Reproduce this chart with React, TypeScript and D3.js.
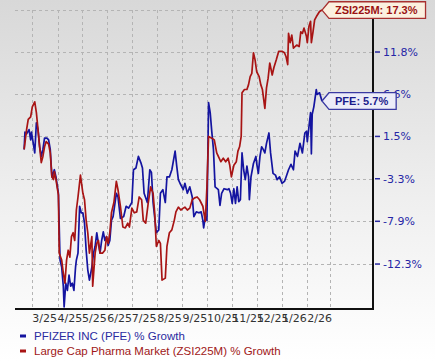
import React from "react";
import * as d3 from "d3";

// % growth series (date, value)
const pfeSeries: [string, number][] = [
  ["2025-02-19", 0.0], ["2025-02-20", 2.0], ["2025-02-22", 1.8], ["2025-02-25", 2.3],
  ["2025-02-27", 1.1], ["2025-02-28", 2.0], ["2025-03-02", 0.8], ["2025-03-04", -0.4],
  ["2025-03-06", 3.1], ["2025-03-08", 2.3], ["2025-03-10", 0.3], ["2025-03-12", -0.8],
  ["2025-03-14", 0.0], ["2025-03-16", 1.3], ["2025-03-19", 1.3], ["2025-03-21", 1.1],
  ["2025-03-23", 0.0], ["2025-03-25", -3.1], ["2025-03-28", -2.3], ["2025-03-30", -3.1],
  ["2025-04-02", -4.9], ["2025-04-04", -11.9], ["2025-04-06", -12.6], ["2025-04-08", -14.5],
  ["2025-04-09", -16.5], ["2025-04-11", -14.2], ["2025-04-13", -14.9], ["2025-04-15", -13.4],
  ["2025-04-17", -14.5], ["2025-04-19", -14.2], ["2025-04-21", -14.9], ["2025-04-23", -12.6],
  ["2025-04-24", -11.9], ["2025-04-26", -11.2], ["2025-04-28", -6.3], ["2025-04-30", -7.0],
  ["2025-05-02", -7.0], ["2025-05-04", -8.1], ["2025-05-06", -10.9], ["2025-05-08", -12.9],
  ["2025-05-10", -13.9], ["2025-05-13", -12.6], ["2025-05-15", -11.2], ["2025-05-17", -10.5],
  ["2025-05-19", -9.1], ["2025-05-21", -10.2], ["2025-05-23", -11.2], ["2025-05-25", -9.9],
  ["2025-05-27", -9.0], ["2025-05-29", -9.9], ["2025-05-31", -9.5], ["2025-06-02", -10.4],
  ["2025-06-04", -9.9], ["2025-06-06", -7.8], ["2025-06-08", -7.4], ["2025-06-12", -4.9],
  ["2025-06-14", -5.3], ["2025-06-17", -7.6], ["2025-06-21", -7.4], ["2025-06-24", -6.3],
  ["2025-06-27", -6.5], ["2025-07-01", -5.9], ["2025-07-03", -2.3], ["2025-07-06", -2.1],
  ["2025-07-09", -0.8], ["2025-07-12", -1.5], ["2025-07-14", -2.1], ["2025-07-16", -4.9],
  ["2025-07-20", -5.9], ["2025-07-23", -2.3], ["2025-07-25", -2.6], ["2025-07-27", -5.9],
  ["2025-07-31", -9.1], ["2025-08-03", -8.8], ["2025-08-05", -4.9], ["2025-08-08", -4.5],
  ["2025-08-11", -5.9], ["2025-08-13", -3.1], ["2025-08-16", -3.1], ["2025-08-19", -2.3],
  ["2025-08-23", -0.2], ["2025-08-25", -1.9], ["2025-08-27", -3.4], ["2025-08-29", -3.8],
  ["2025-09-02", -4.5], ["2025-09-04", -3.8], ["2025-09-07", -4.9], ["2025-09-10", -4.2],
  ["2025-09-13", -5.3], ["2025-09-15", -7.4], ["2025-09-18", -6.9], ["2025-09-21", -7.0],
  ["2025-09-24", -6.9], ["2025-09-26", -7.8], ["2025-09-27", -8.6], ["2025-09-29", -7.4],
  ["2025-10-01", -7.8], ["2025-10-03", 5.5], ["2025-10-05", 4.3], ["2025-10-07", 2.0],
  ["2025-10-09", 0.0], ["2025-10-11", -4.2], ["2025-10-15", -4.5], ["2025-10-17", -6.2],
  ["2025-10-19", -4.9], ["2025-10-22", -4.4], ["2025-10-26", -4.5], ["2025-10-28", -4.4],
  ["2025-10-30", -4.9], ["2025-11-01", -6.0], ["2025-11-03", -4.4], ["2025-11-05", -6.0],
  ["2025-11-07", -4.2], ["2025-11-09", -5.8], ["2025-11-11", -5.6], ["2025-11-13", -0.4],
  ["2025-11-15", -2.3], ["2025-11-17", -3.4], ["2025-11-19", -1.9], ["2025-11-21", -3.1],
  ["2025-11-22", -5.6], ["2025-11-24", -3.1], ["2025-11-27", -1.6], ["2025-11-30", -0.8],
  ["2025-12-01", -1.6], ["2025-12-03", -2.7], ["2025-12-05", -0.8], ["2025-12-07", 0.3],
  ["2025-12-09", 0.0], ["2025-12-11", -0.4], ["2025-12-13", 0.7], ["2025-12-16", 1.9],
  ["2025-12-18", -0.4], ["2025-12-21", -2.7], ["2025-12-24", -2.9], ["2025-12-26", -3.4],
  ["2025-12-29", -3.1], ["2026-01-01", -3.8], ["2026-01-04", -3.6], ["2026-01-06", -3.1],
  ["2026-01-09", -2.3], ["2026-01-12", -1.7], ["2026-01-15", -2.3], ["2026-01-17", -0.2],
  ["2026-01-20", -0.8], ["2026-01-23", 0.7], ["2026-01-26", -0.4], ["2026-01-29", 1.9],
  ["2026-01-31", 2.1], ["2026-02-01", 0.9], ["2026-02-03", 2.6], ["2026-02-05", 4.3],
  ["2026-02-06", -0.5], ["2026-02-07", 4.1], ["2026-02-09", 5.0], ["2026-02-12", 7.1],
  ["2026-02-13", 6.5], ["2026-02-16", 6.7], ["2026-02-19", 5.7],
];

const zsiSeries: [string, number][] = [
  ["2025-02-19", 0.0], ["2025-02-22", 2.3], ["2025-02-24", 3.5], ["2025-02-27", 3.8],
  ["2025-03-01", 5.0], ["2025-03-04", 5.6], ["2025-03-06", 4.3], ["2025-03-08", 2.3],
  ["2025-03-10", 0.3], ["2025-03-12", -1.5], ["2025-03-14", -0.8], ["2025-03-16", 0.3],
  ["2025-03-18", 0.9], ["2025-03-21", 0.6], ["2025-03-23", -0.4], ["2025-03-25", -3.1],
  ["2025-03-27", -3.4], ["2025-03-28", -2.5], ["2025-03-30", -3.4], ["2025-04-02", -5.1],
  ["2025-04-03", -11.2], ["2025-04-06", -11.9], ["2025-04-08", -13.2], ["2025-04-10", -14.2],
  ["2025-04-12", -11.9], ["2025-04-14", -10.9], ["2025-04-16", -11.6], ["2025-04-18", -9.5],
  ["2025-04-20", -9.1], ["2025-04-22", -9.9], ["2025-04-24", -6.7], ["2025-04-26", -5.3],
  ["2025-04-29", -2.9], ["2025-05-02", -4.9], ["2025-05-04", -5.6], ["2025-05-06", -7.8],
  ["2025-05-08", -9.1], ["2025-05-10", -11.2], ["2025-05-13", -9.5], ["2025-05-14", -14.5],
  ["2025-05-17", -11.2], ["2025-05-19", -10.2], ["2025-05-21", -9.9], ["2025-05-23", -11.2],
  ["2025-05-26", -11.2], ["2025-05-29", -10.9], ["2025-05-31", -9.5], ["2025-06-02", -10.2],
  ["2025-06-04", -9.1], ["2025-06-06", -7.0], ["2025-06-09", -5.9], ["2025-06-12", -3.6],
  ["2025-06-14", -4.5], ["2025-06-17", -6.3], ["2025-06-20", -8.5], ["2025-06-23", -8.6],
  ["2025-06-26", -8.1], ["2025-06-28", -8.5], ["2025-07-01", -6.5], ["2025-07-04", -7.0],
  ["2025-07-07", -6.9], ["2025-07-10", -5.3], ["2025-07-13", -5.6], ["2025-07-15", -7.8],
  ["2025-07-18", -8.1], ["2025-07-21", -6.0], ["2025-07-24", -4.2], ["2025-07-27", -4.9],
  ["2025-07-29", -7.0], ["2025-07-31", -10.5], ["2025-08-03", -9.9], ["2025-08-05", -10.2],
  ["2025-08-07", -13.9], ["2025-08-11", -13.7], ["2025-08-13", -10.5], ["2025-08-16", -9.1],
  ["2025-08-19", -8.8], ["2025-08-22", -7.8], ["2025-08-24", -6.9], ["2025-08-27", -6.4],
  ["2025-08-30", -6.7], ["2025-09-02", -6.5], ["2025-09-04", -6.4], ["2025-09-07", -6.7],
  ["2025-09-10", -6.5], ["2025-09-13", -5.6], ["2025-09-16", -5.4], ["2025-09-19", -5.3],
  ["2025-09-22", -5.6], ["2025-09-26", -6.3], ["2025-09-29", -7.9], ["2025-10-01", -4.2],
  ["2025-10-03", 1.5], ["2025-10-07", 1.3], ["2025-10-10", 1.1], ["2025-10-13", -0.4],
  ["2025-10-15", -0.8], ["2025-10-18", -1.4], ["2025-10-21", -1.0], ["2025-10-24", -1.4],
  ["2025-10-27", -1.0], ["2025-10-29", -1.8], ["2025-10-31", -3.1], ["2025-11-03", -1.8],
  ["2025-11-06", -1.4], ["2025-11-08", -0.2], ["2025-11-10", 0.3], ["2025-11-12", 1.5],
  ["2025-11-13", 6.7], ["2025-11-16", 7.1], ["2025-11-19", 7.1], ["2025-11-21", 7.7],
  ["2025-11-23", 8.7], ["2025-11-25", 9.1], ["2025-11-27", 11.7], ["2025-11-29", 10.8],
  ["2025-12-01", 9.3], ["2025-12-04", 8.7], ["2025-12-06", 7.7], ["2025-12-08", 7.1],
  ["2025-12-11", 4.8], ["2025-12-13", 7.3], ["2025-12-15", 8.5], ["2025-12-17", 10.4],
  ["2025-12-20", 8.9], ["2025-12-22", 9.8], ["2025-12-25", 10.8], ["2025-12-28", 11.9],
  ["2026-01-01", 11.9], ["2026-01-04", 11.7], ["2026-01-06", 11.2], ["2026-01-08", 10.2],
  ["2026-01-09", 14.2], ["2026-01-11", 13.0], ["2026-01-13", 14.0], ["2026-01-15", 12.3],
  ["2026-01-19", 12.7], ["2026-01-22", 12.5], ["2026-01-24", 14.4], ["2026-01-26", 14.2],
  ["2026-01-28", 14.9], ["2026-01-31", 13.8], ["2026-02-01", 13.0], ["2026-02-03", 15.1],
  ["2026-02-05", 15.8], ["2026-02-06", 13.0], ["2026-02-08", 14.4], ["2026-02-10", 16.0],
  ["2026-02-12", 16.4], ["2026-02-16", 17.1], ["2026-02-19", 17.3],
];

// the top grid line (17.3%) has its label hidden behind the callout
const gridTicks = [17.3, 11.8, 6.6, 1.5, -3.3, -7.9, -12.3];
const yTickLabels = [11.8, 6.6, 1.5, -3.3, -7.9, -12.3];
const monthGrid = [
  "2025-03-01", "2025-04-01", "2025-05-01", "2025-06-01", "2025-07-01", "2025-08-01",
  "2025-09-01", "2025-10-01", "2025-11-01", "2025-12-01", "2026-01-01", "2026-02-01", "2026-03-01",
];
const monthLabels = ["3/25", "4/25", "5/25", "6/25", "7/25", "8/25", "9/25", "10/25", "11/25", "12/25", "1/26", "2/26"];
const legendItems = ["PFIZER INC (PFE) % Growth", "Large Cap Pharma Market (ZSI225M) % Growth"];

const W = 435;
const H = 361;
const left = 15, right = 373, top = 10, bottom = 309;
const BLUE = "#1414a0";
const RED = "#a81414";
const parse = d3.timeParse("%Y-%m-%d");

const App = () => {
  const svgRef = React.useRef<SVGSVGElement>(null);

  React.useEffect(() => {
    const svg = d3.select(svgRef.current);
    svg.selectAll("*").remove();

    const x = d3.scaleTime()
      .domain([parse("2025-03-01")!, parse("2026-02-01")!])
      .range([32.3, 307.3]);
    const y = d3.scaleLog().domain([0.833, 1.1866]).range([bottom, 0]);
    const yv = (v: number) => y(1 + v / 100);

    const defs = svg.append("defs");
    const grad = defs.append("linearGradient").attr("id", "bg").attr("x1", 0).attr("x2", 0).attr("y1", 0).attr("y2", 1);
    grad.append("stop").attr("offset", "0%").attr("stop-color", "#d8d8d8");
    grad.append("stop").attr("offset", "55%").attr("stop-color", "#efefef");
    grad.append("stop").attr("offset", "100%").attr("stop-color", "#ffffff");
    svg.append("rect").attr("width", W).attr("height", H).attr("fill", "url(#bg)");

    // grid
    const grid = svg.append("g").attr("stroke", "#b4b4b4").attr("stroke-dasharray", "3,3").attr("stroke-width", 1);
    monthGrid.forEach((d) => {
      const gx = Math.round(x(parse(d)!)) + 0.5;
      grid.append("line").attr("x1", gx).attr("x2", gx).attr("y1", top).attr("y2", bottom);
    });
    gridTicks.forEach((t) => {
      const gy = Math.round(yv(t)) + 0.5;
      grid.append("line").attr("x1", left).attr("x2", right).attr("y1", gy).attr("y2", gy);
    });

    // lines
    const line = d3.line<[string, number]>()
      .x((d) => x(parse(d[0])!))
      .y((d) => yv(d[1]));
    svg.append("path").datum(pfeSeries).attr("fill", "none").attr("stroke", BLUE)
      .attr("stroke-width", 1.7).attr("stroke-linejoin", "round").attr("d", line);
    svg.append("path").datum(zsiSeries).attr("fill", "none").attr("stroke", RED)
      .attr("stroke-width", 1.7).attr("stroke-linejoin", "round").attr("d", line);

    // axes
    svg.append("line").attr("x1", left).attr("x2", right + 1).attr("y1", bottom).attr("y2", bottom)
      .attr("stroke", "#111").attr("stroke-width", 2);
    svg.append("line").attr("x1", right).attr("x2", right).attr("y1", top).attr("y2", bottom + 1)
      .attr("stroke", "#111").attr("stroke-width", 2);

    const yAx = svg.append("g");
    yTickLabels.forEach((t) => {
      const gy = yv(t);
      yAx.append("line").attr("x1", right + 2).attr("x2", right + 7).attr("y1", gy).attr("y2", gy)
        .attr("stroke", "#2a2aa0").attr("stroke-width", 1.5);
      yAx.append("text").attr("x", right + 10).attr("y", gy).attr("dy", "0.36em")
        .attr("font-family", "DejaVu Sans").attr("font-size", 11).attr("fill", "#2626a6")
        .text(`${t.toFixed(1)}%`);
    });

    monthLabels.forEach((lab, i) => {
      svg.append("text").attr("x", x(parse(monthGrid[i])!)).attr("y", 322)
        .attr("font-family", "DejaVu Sans").attr("font-size", 11).attr("fill", "#333")
        .text(lab);
    });

    // legend
    [BLUE, RED].forEach((c, i) => {
      const ly = 336 + i * 15;
      svg.append("rect").attr("x", 20).attr("y", ly - 1.5).attr("width", 6).attr("height", 3).attr("fill", c);
      svg.append("text").attr("x", 34).attr("y", ly + 4)
        .attr("font-family", "Liberation Sans, Arial").attr("font-size", 11.5)
        .attr("fill", i === 0 ? "#2a2aa0" : "#a01818").text(legendItems[i]);
    });

    // end-value callouts
    const callout = (series: [string, number][], label: string, fill: string, stroke: string, textColor: string) => {
      const last = series[series.length - 1];
      const tx = x(parse(last[0])!);
      const ty = yv(last[1]);
      const bx = tx + 7;
      const g = svg.append("g");
      const txt = g.append("text").attr("font-family", "Liberation Sans, Arial").attr("font-weight", "bold")
        .attr("font-size", 11).attr("fill", textColor).text(label);
      const tw = (txt.node() as SVGTextElement).getComputedTextLength();
      const bw = tw + 14;
      const bt = Math.max(1.5, ty - 8.3);
      const bb = bt + 16.6;
      g.insert("path", "text")
        .attr("d", `M${tx},${ty} L${bx},${bt} L${bx + bw},${bt} L${bx + bw},${bb} L${bx},${bb} Z`)
        .attr("fill", fill).attr("stroke", stroke).attr("stroke-width", 1.3);
      txt.attr("x", bx + 6).attr("y", (bt + bb) / 2 + 4);
    };
    callout(zsiSeries, "ZSI225M: 17.3%", "#fbf0df", "#a83030", "#9a1212");
    callout(pfeSeries, "PFE: 5.7%", "#ececf8", "#3a3aa2", "#1c1c8c");
  }, []);

  return (
    <svg ref={svgRef} width={W} height={H} style={{ position: "absolute", left: 0, top: 0 }} />
  );
};

export default App;
